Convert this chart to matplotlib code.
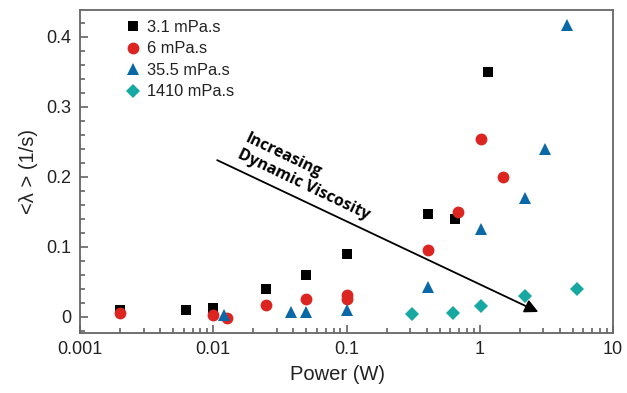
import matplotlib
matplotlib.use("Agg")
import matplotlib.pyplot as plt
from matplotlib.ticker import MultipleLocator, LogLocator, FixedFormatter, FixedLocator

plt.rcParams['font.family'] = ['Liberation Sans', 'DejaVu Sans']

# data
p_31 = [0.002, 0.0062, 0.01, 0.025, 0.05, 0.1, 0.41, 0.65, 1.15]
l_31 = [0.010, 0.010, 0.013, 0.040, 0.060, 0.090, 0.147, 0.140, 0.350]

p_6 = [0.002, 0.01, 0.0127, 0.025, 0.05, 0.1, 0.1, 0.41, 0.69, 1.02, 1.49]
l_6 = [0.005, 0.003, -0.002, 0.017, 0.025, 0.032, 0.025, 0.096, 0.150, 0.254, 0.200]

p_355 = [0.0121, 0.038, 0.05, 0.1, 0.41, 1.03, 2.18, 3.08, 4.5]
l_355 = [0.002, 0.007, 0.007, 0.010, 0.043, 0.125, 0.170, 0.240, 0.417]

p_1410 = [0.31, 0.63, 1.03, 2.18, 5.36]
l_1410 = [0.004, 0.006, 0.016, 0.030, 0.040]

fig = plt.figure(figsize=(6.27, 3.93), dpi=100)
ax = fig.add_axes([0.1276, 0.1527, 0.8501, 0.8219])

ax.plot(p_31, l_31, 's', color='black', ms=7.5, mew=0, label='3.1 mPa.s')
ax.plot(p_6, l_6, 'o', color='#dc2420', ms=8.5, mew=0, label='6 mPa.s')
ax.plot(p_355, l_355, '^', color='#0a68a6', ms=9, mew=0, label='35.5 mPa.s')
ax.plot(p_1410, l_1410, 'D', color='#17a8a2', ms=7, mew=0, label='1410 mPa.s')

ax.set_xscale('log')
ax.set_xlim(0.001, 10)
ax.set_ylim(-0.023, 0.4386)
ax.yaxis.set_major_locator(FixedLocator([0, 0.1, 0.2, 0.3, 0.4]))
ax.yaxis.set_major_formatter(FixedFormatter(['0', '0.1', '0.2', '0.3', '0.4']))
ax.yaxis.set_minor_locator(MultipleLocator(0.02))
ax.xaxis.set_major_locator(FixedLocator([0.001, 0.01, 0.1, 1, 10]))
ax.xaxis.set_major_formatter(FixedFormatter(['0.001', '0.01', '0.1', '1', '10']))
ax.xaxis.set_minor_locator(LogLocator(base=10, subs=range(2, 10)))

ax.tick_params(which='both', direction='in', colors='#555555', labelcolor='#222222',
               labelsize=13, top=False, right=False, width=1.1)
ax.tick_params(which='major', length=6, pad=6)
ax.tick_params(which='minor', length=3.5)
for s in ax.spines.values():
    s.set_color('#666666')
    s.set_linewidth(1.3)

ax.set_xlabel('Power (W)', fontsize=14.5, color='#222222')
ax.set_ylabel('<λ > (1/s)', fontsize=14.5, color='#222222', labelpad=6)
ax.xaxis.set_label_coords(0.484, -0.1)

leg = ax.legend(loc='upper left', bbox_to_anchor=(0.062, 1.0), frameon=False,
                fontsize=11.8, handletextpad=0.3, labelspacing=0.4,
                borderaxespad=0.2, handlelength=1.2)
for t in leg.get_texts():
    t.set_color('#222222')

ax.annotate('', xy=(2.75, 0.007), xytext=(0.0107, 0.224),
            arrowprops=dict(arrowstyle='-|>', mutation_scale=20, lw=1.3, color='black',
                            shrinkA=0, shrinkB=0))
ax.text(0.0510, 0.200, 'Increasing\nDynamic Viscosity', rotation=-25.5,
        rotation_mode='anchor', ha='center', va='center', multialignment='left',
        fontsize=11.5, fontweight='bold', family=['Open Sans', 'DejaVu Sans'], color='black',
        linespacing=1.1)

fig.savefig('out.png', dpi=100)
